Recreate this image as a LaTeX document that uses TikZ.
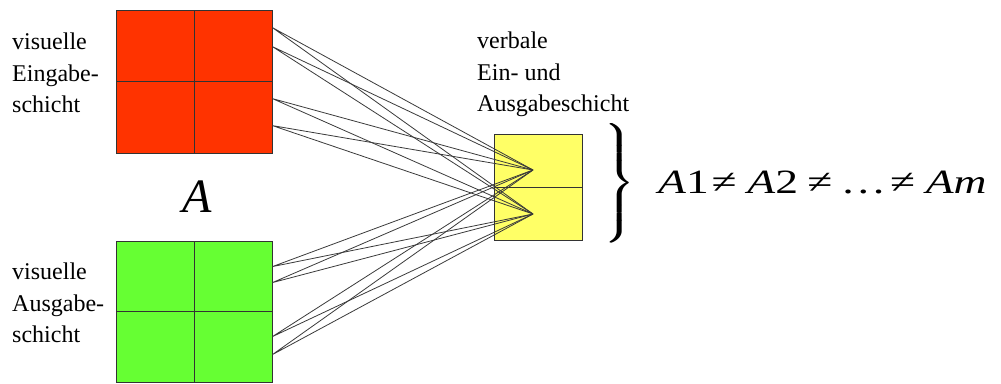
\documentclass[tikz,border=0pt]{standalone}
\usepackage{amsmath}
\usepackage{graphicx}
\usepackage{fontspec}
\setmainfont{Liberation Serif}
\usepackage{tikz}
\usetikzlibrary{calc}
\definecolor{layerred}{HTML}{FF3300}
\definecolor{layergreen}{HTML}{66FF33}
\definecolor{layeryellow}{HTML}{FFFF66}
\definecolor{layerline}{HTML}{333333}
\definecolor{linkgray}{HTML}{3A3A3A}
\newcommand{\singlebrace}{\resizebox*{31pt}{120pt}{\fontsize{34}{34}\selectfont$\left.\vrule height 50pt depth 50pt width 0pt\right\}$}}

\begin{document}
\begin{tikzpicture}[x=1pt, y=-1pt,
  layer/.style={draw=layerline, line width=0.8pt, inner sep=0pt, minimum width=156pt, minimum height=143pt,
    path picture={\draw[layerline, line width=0.8pt] (path picture bounding box.north) -- (path picture bounding box.south)
      (path picture bounding box.west) -- (path picture bounding box.east);}},
  duo/.style={draw=layerline, line width=0.8pt, inner sep=0pt, minimum width=88pt, minimum height=106pt,
    path picture={\draw[layerline, line width=0.8pt] (path picture bounding box.west) -- (path picture bounding box.east);}},
  layertext/.style={anchor=north west, inner sep=0pt, align=left, font=\fontsize{24}{31.5}\selectfont},
  link/.style={draw=linkgray, line width=0.8pt}
]
\useasboundingbox (0,0) rectangle (1001,383);
% die drei Schichten
\node[layer, fill=layerred] (eingabe) at (194,81.5) {};
\node[layer, fill=layergreen, minimum height=141pt] (ausgabe) at (194,311.5) {};
\node[duo, fill=layeryellow] (verbal) at (538,187) {};
\node[layertext] (txtein) at (12,33) {visuelle\\Eingabe-\\schicht};
\node[layertext] (txtaus) at (12,263) {visuelle\\Ausgabe-\\schicht};
\node[layertext] (txtverbal) at (477,32) {verbale\\Ein- und\\Ausgabeschicht};
\node[anchor=base, inner sep=0pt, font=\fontsize{48}{48}\selectfont\itshape] (buchstabe) at (197,212) {A};
% Verbindungen
\coordinate (e1) at ($(eingabe.north east)+(0,18)$);
\coordinate (e2) at ($(eingabe.north east)+(0,37)$);
\coordinate (e3) at ($(eingabe.north east)+(0,89)$);
\coordinate (e4) at ($(eingabe.north east)+(0,116)$);
\coordinate (a1) at ($(ausgabe.north east)+(0,26)$);
\coordinate (a2) at ($(ausgabe.north east)+(0,42)$);
\coordinate (a3) at ($(ausgabe.north east)+(0,96)$);
\coordinate (a4) at ($(ausgabe.north east)+(0,114)$);
\coordinate (t1) at ($(verbal.center)+(-5,-17)$);
\coordinate (t2) at ($(verbal.center)+(-5,27)$);
\foreach \s in {e1,e2,e3,e4,a1,a2,a3,a4}
  \draw[link] (\s) -- (t1) (\s) -- (t2);
% Klammer und Ungleichungen
\node[inner sep=0pt] (klammer) at (619,183) {\rlap{\singlebrace}\kern1.2pt\singlebrace};
\node[anchor=base west, inner sep=0pt] (ungleich) at (658,193)
  {\scalebox{1.34}[1]{\fontsize{34}{34}\selectfont\textit{A}1\kern2pt≠\kern8pt\textit{A}2\kern7pt≠\kern6pt…\kern3pt≠\kern8pt\textit{Am}}};
\end{tikzpicture}
\end{document}
